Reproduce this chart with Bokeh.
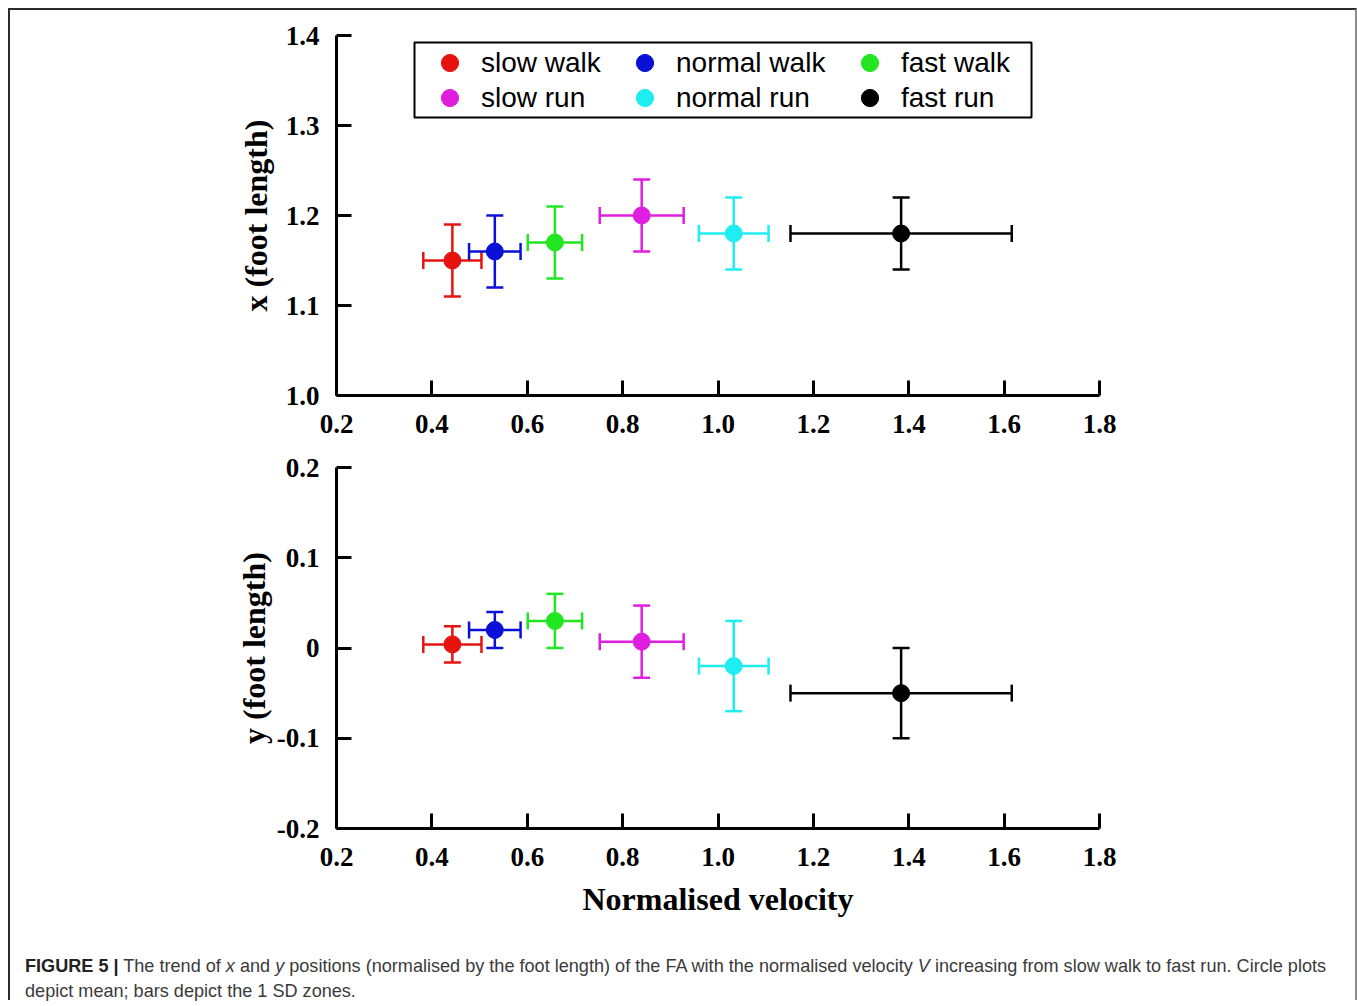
import numpy as np
from bokeh.plotting import figure
from bokeh.models import (ColumnDataSource, Whisker, TeeHead, Legend, LegendItem, Div,
                          FixedTicker, Range1d, BoxAnnotation)
from bokeh.layouts import column
from bokeh.embed import file_html
from bokeh.resources import INLINE

# ---------------- data ----------------
groups = ["slow walk", "normal walk", "fast walk", "slow run", "normal run", "fast run"]
colors = ["#e6130f", "#0a10d6", "#22e622", "#e01ee0", "#1eeef2", "#000000"]
velocity = [0.443, 0.532, 0.658, 0.840, 1.033, 1.384]
velocity_sd = [0.061, 0.054, 0.057, 0.088, 0.073, 0.232]
x_pos = [1.15, 1.16, 1.17, 1.20, 1.18, 1.18]
x_pos_sd = [0.04, 0.04, 0.04, 0.04, 0.04, 0.04]
y_pos = [0.004, 0.02, 0.03, 0.007, -0.02, -0.05]
y_pos_sd = [0.02, 0.02, 0.03, 0.04, 0.05, 0.05]

vel_ticks = [0.2, 0.4, 0.6, 0.8, 1.0, 1.2, 1.4, 1.6, 1.8]
vel_tick_labels = ["0.2", "0.4", "0.6", "0.8", "1.0", "1.2", "1.4", "1.6", "1.8"]
x_ticks = [1.0, 1.1, 1.2, 1.3, 1.4]
x_tick_labels = ["1.0", "1.1", "1.2", "1.3", "1.4"]
y_ticks = [-0.2, -0.1, 0.0, 0.1, 0.2]
y_tick_labels = ["-0.2", "-0.1", "0", "0.1", "0.2"]

SERIF = "Liberation Serif"
SANS = "Liberation Sans"
TICK_FS = "27px"
TITLE_FS = "32px"


def make_panel(means, sds, yr, ticks, labels, ytitle, ytitle_standoff,
               frame_h, top_b, bottom_b, xtitle):
    p = figure(frame_width=763, frame_height=frame_h,
               min_border_left=326, min_border_right=256,
               min_border_top=top_b, min_border_bottom=bottom_b,
               x_range=Range1d(0.2, 1.8), y_range=Range1d(*yr),
               output_backend="svg", toolbar_location=None)
    p.grid.visible = False
    p.outline_line_color = None
    p.background_fill_color = "white"
    p.border_fill_color = "white"

    renderers = []
    for i in range(len(groups)):
        c = colors[i]
        src = ColumnDataSource(dict(
            v=[velocity[i]], y=[means[i]],
            vlo=[velocity[i] - velocity_sd[i]], vhi=[velocity[i] + velocity_sd[i]],
            ylo=[means[i] - sds[i]], yhi=[means[i] + sds[i]]))
        wh = Whisker(source=src, base="y", lower="vlo", upper="vhi", dimension="width",
                     line_color=c, line_width=2.5, level="underlay",
                     upper_head=TeeHead(size=17, line_color=c, line_width=2.5),
                     lower_head=TeeHead(size=17, line_color=c, line_width=2.5))
        wv = Whisker(source=src, base="v", lower="ylo", upper="yhi", dimension="height",
                     line_color=c, line_width=2.5, level="underlay",
                     upper_head=TeeHead(size=17, line_color=c, line_width=2.5),
                     lower_head=TeeHead(size=17, line_color=c, line_width=2.5))
        p.add_layout(wh)
        p.add_layout(wv)
        r = p.scatter("v", "y", source=src, size=17, fill_color=c, line_color=c)
        renderers.append(r)

    for ax, tk, lb in ((p.xaxis[0], vel_ticks, vel_tick_labels), (p.yaxis[0], ticks, labels)):
        ax.ticker = FixedTicker(ticks=tk)
        ax.major_label_overrides = dict(zip(tk, lb))
        ax.axis_line_width = 3
        ax.axis_line_color = "black"
        ax.major_tick_line_width = 3
        ax.major_tick_line_color = "black"
        ax.major_tick_in = 15
        ax.major_tick_out = 0
        ax.minor_tick_line_color = None
        ax.major_label_text_font = SERIF
        ax.major_label_text_font_style = "bold"
        ax.major_label_text_font_size = TICK_FS
        ax.major_label_text_color = "black"
    p.yaxis.major_label_standoff = 17
    p.xaxis.major_label_standoff = 19

    p.yaxis.axis_label = ytitle
    p.yaxis.axis_label_text_font = SERIF
    p.yaxis.axis_label_text_font_style = "bold"
    p.yaxis.axis_label_text_font_size = TITLE_FS
    p.yaxis.axis_label_text_color = "black"
    p.yaxis.axis_label_standoff = ytitle_standoff

    if xtitle:
        p.xaxis.axis_label = xtitle
        p.xaxis.axis_label_text_font = SERIF
        p.xaxis.axis_label_text_font_style = "bold"
        p.xaxis.axis_label_text_font_size = TITLE_FS
        p.xaxis.axis_label_text_color = "black"
        p.xaxis.axis_label_standoff = 12
    return p, renderers


p1, r1 = make_panel(x_pos, x_pos_sd, (1.0, 1.4), x_ticks, x_tick_labels,
                    "x (foot length)", 9, 360, 25, 55, None)
p2, r2 = make_panel(y_pos, y_pos_sd, (-0.2, 0.2), y_ticks, y_tick_labels,
                    "y (foot length)", 2, 361, 17, 92, "Normalised velocity")

# legend frame (screen units relative to the top plot frame)
p1.add_layout(BoxAnnotation(left=78, right=695, bottom=278, top=353,
                            left_units="screen", right_units="screen",
                            bottom_units="screen", top_units="screen",
                            fill_color="white", fill_alpha=1.0,
                            line_color="black", line_alpha=1.0, line_width=2))
# one small legend per entry, laid out as 3 columns x 2 rows
leg_cols = [92, 287, 512]
leg_rows = [311, 276]
for i in range(len(groups)):
    lg = Legend(items=[LegendItem(label=groups[i], renderers=[r1[i]])],
                location=(leg_cols[i % 3], leg_rows[i // 3]),
                glyph_width=43, glyph_height=43, label_standoff=10, spacing=0,
                padding=0, margin=0, border_line_color=None, background_fill_alpha=0,
                label_text_font=SANS, label_text_font_size="28px", label_text_color="black")
    p1.add_layout(lg, "center")

caption_html = (
    "<div style=\"font-family:'Liberation Sans',Arial,sans-serif;font-size:18.1px;line-height:25px;"
    "color:#3a3a3a;padding:29px 0 0 10px;white-space:nowrap;\">"
    "<b style='color:#222'>FIGURE 5 |</b> The trend of <i>x</i> and <i>y</i> positions (normalised by the foot length) "
    "of the FA with the normalised velocity <i>V</i> increasing from slow walk to fast run. Circle plots<br>"
    "depict mean; bars depict the 1 SD zones.</div>")
cap = Div(text=caption_html, width=1345, height=70, styles={"overflow": "visible"})

layout = column(p1, p2, cap, spacing=0, width=1349,
                styles={"margin-left": "8px", "margin-top": "8px", "box-sizing": "border-box",
                        "border-top": "2px solid #2b2b2b", "border-left": "2px solid #2b2b2b",
                        "border-right": "2px solid #8c8c8c", "background": "white"})

open("out.html", "w").write(file_html(layout, INLINE))
